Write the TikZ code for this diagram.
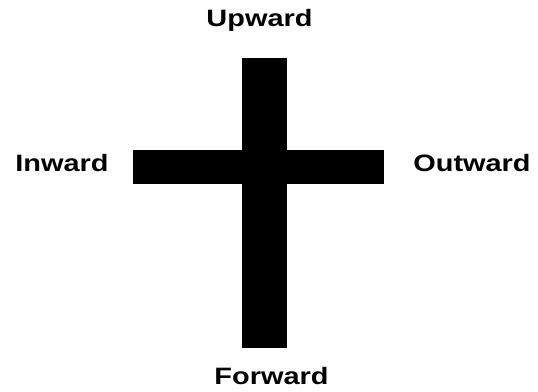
\documentclass[tikz,border=0pt]{standalone}
\usepackage{fontspec}
\setmainfont{Liberation Sans}
\begin{document}
\begin{tikzpicture}[x=1pt,y=-1pt,
  lbl/.style={inner sep=0pt,anchor=base,font=\fontsize{23.7}{24}\selectfont\bfseries,xscale=1.22,transform shape},
  bar/.style={fill=black,draw=none}]
\useasboundingbox (0,0) rectangle (538,391);
\fill[bar] (242,58) rectangle (287,348);
\fill[bar] (133,150) rectangle (384,184);
\node[lbl] (up) at (259.5,26) {Upward};
\node[lbl] (in) at (62,171) {Inward};
\node[lbl] (out) at (472,171) {Outward};
\node[lbl] (fw) at (271.5,384) {Forward};
\end{tikzpicture}
\end{document}
